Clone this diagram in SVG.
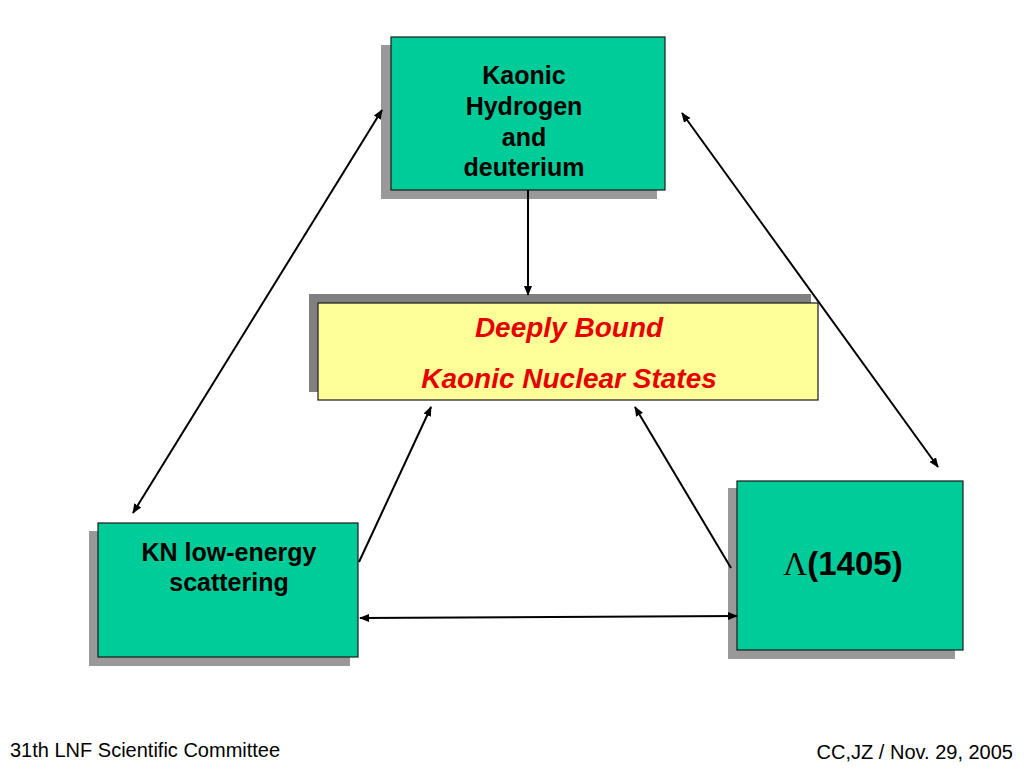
<svg xmlns="http://www.w3.org/2000/svg" width="1024" height="768" viewBox="0 0 1024 768">
<style>
.box{fill:#00cc99;stroke:#1a1a1a;stroke-width:1.2}
.sh{fill:#999999}
.sh2{fill:#808080}
.yel{fill:#ffff99;stroke:#1a1a1a;stroke-width:1.2}
.t{font-family:"Liberation Sans",Arial,sans-serif;font-weight:bold;font-size:25px;fill:#000;text-anchor:middle}
.r{font-family:"Liberation Sans",Arial,sans-serif;font-weight:bold;font-style:italic;font-size:28px;fill:#e60000;text-anchor:middle}
.f{font-family:"Liberation Sans",Arial,sans-serif;font-size:20px;fill:#000}
.c{stroke:#000;stroke-width:2;fill:none}
</style>
<defs>
<marker id="ah" viewBox="0 0 10 10" refX="9" refY="5" markerWidth="5" markerHeight="5" orient="auto-start-reverse" markerUnits="strokeWidth">
<path d="M0,1 L10,5 L0,9 z" fill="#000"/>
</marker>
</defs>
<g id="kaonic-hydrogen">
<rect class="sh" x="381" y="45" width="276" height="154"/>
<rect class="box" x="391" y="37" width="274" height="153"/>
<text class="t" x="524" y="84">Kaonic</text>
<text class="t" x="524" y="115">Hydrogen</text>
<text class="t" x="524" y="146">and</text>
<text class="t" x="524" y="176">deuterium</text>
</g>
<g id="deeply-bound">
<rect class="sh2" x="309" y="294" width="502" height="98"/>
<rect class="yel" x="318" y="303" width="500" height="97"/>
<text class="r" x="569" y="337">Deeply Bound</text>
<text class="r" x="569" y="388">Kaonic Nuclear States</text>
</g>
<g id="kn-scattering">
<rect class="sh" x="89" y="531" width="261" height="135"/>
<rect class="box" x="98" y="523" width="260" height="134"/>
<text class="t" x="229" y="561">KN low-energy</text>
<text class="t" x="229" y="591">scattering</text>
</g>
<g id="lambda">
<rect class="sh" x="728" y="488" width="227" height="171"/>
<rect class="box" x="737" y="481" width="226" height="169"/>
<text class="t" x="843" y="575" style="font-size:33px"><tspan style="font-family:'Liberation Serif','Times New Roman',serif;font-weight:normal">Λ</tspan>(1405)</text>
</g>
<g id="connectors">
<line class="c" x1="528" y1="190" x2="528" y2="295" marker-end="url(#ah)"/>
<line class="c" x1="382" y1="110" x2="133" y2="513" marker-start="url(#ah)" marker-end="url(#ah)"/>
<line class="c" x1="682" y1="113" x2="938" y2="467" marker-start="url(#ah)" marker-end="url(#ah)"/>
<line class="c" x1="359" y1="562" x2="431" y2="407" marker-end="url(#ah)"/>
<line class="c" x1="731" y1="568" x2="635" y2="407" marker-end="url(#ah)"/>
<line class="c" x1="360" y1="618" x2="737" y2="616" marker-start="url(#ah)" marker-end="url(#ah)"/>
</g>
<text class="f" x="10" y="757">31th LNF Scientific Committee</text>
<text class="f" x="1013" y="759" text-anchor="end">CC,JZ / Nov. 29, 2005</text>
</svg>
